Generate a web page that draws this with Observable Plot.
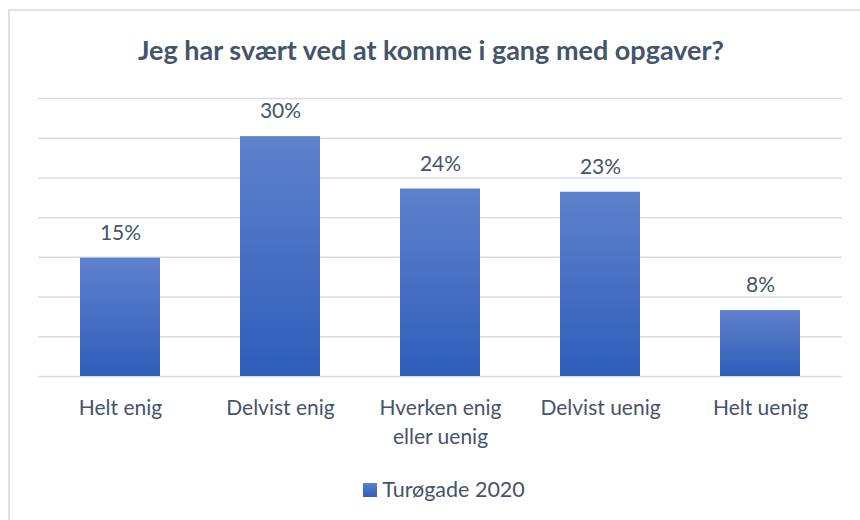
<!DOCTYPE html>
<html>
<head>
<meta charset="utf-8">
<script src="https://cdn.jsdelivr.net/npm/d3@7"></script>
<script src="https://cdn.jsdelivr.net/npm/@observablehq/plot@0.6"></script>
<style>
  html, body { margin: 0; padding: 0; background: #fff; }
  #wrap { position: relative; width: 860px; height: 520px; overflow: hidden; background: #fff; font-family: Lato, "Open Sans", sans-serif; color: #44546A; }
  #frame { position: absolute; left: 8px; top: 9px; width: 900px; height: 600px; border: 2px solid #DDE2E9; box-sizing: border-box; }
  #title { position: absolute; left: 0; width: 862px; top: 34px; text-align: center; font-weight: bold; font-size: 27px; line-height: 32px; }
  #chart { position: absolute; left: 0; top: 70px; }
  #legend { position: absolute; top: 476px; left: 14px; width: 860px; text-align: center; font-size: 21.5px; line-height: 26px; }
  #legend .sw { display: inline-block; width: 14px; height: 14px; background: linear-gradient(#5B7FCB, #2F5FBB); margin-right: 5px; vertical-align: 0px; }
</style>
</head>
<body>
<div id="wrap">
  <div id="frame"></div>
  <div id="title"></div>
  <div id="chart"></div>
  <div id="legend"></div>
</div>
<script>
const titleText = "Jeg har svært ved at komme i gang med opgaver?";
const seriesName = "Turøgade 2020";
const categories = ["Helt enig", "Delvist enig", "Hverken enig eller uenig", "Delvist uenig", "Helt uenig"];
const tickLabels = ["Helt enig", "Delvist enig", "Hverken enig\neller uenig", "Delvist uenig", "Helt uenig"];
const values = [14.9, 30.2, 23.6, 23.2, 8.3];
const valueLabels = ["15%", "30%", "24%", "23%", "8%"];
const yTicks = [0, 5, 10, 15, 20, 25, 30, 35];

const data = categories.map((c, i) => ({cat: c, value: values[i], label: valueLabels[i]}));
const tickMap = new Map(categories.map((c, i) => [c, tickLabels[i]]));

document.getElementById("title").textContent = titleText;
document.getElementById("legend").innerHTML = '<span class="sw"></span>' + seriesName;

const textColor = "#44546A";
const plot = Plot.plot({
  width: 860,
  height: 380,
  marginLeft: 38,
  marginRight: 18,
  marginTop: 28,
  marginBottom: 74,
  style: {fontFamily: "Lato, 'Open Sans', sans-serif", fontSize: "21px", color: textColor, background: "transparent"},
  x: {domain: categories, paddingInner: 0.5, paddingOuter: 0.25, label: null},
  y: {domain: [0, 35], label: null, axis: null},
  marks: [
    Plot.ruleY(yTicks, {stroke: "#D9DDE3", strokeWidth: 1.5}),
    Plot.barY(data, {x: "cat", y: "value", fill: "url(#barGrad)"}),
    Plot.text(data, {x: "cat", y: "value", text: "label", dy: -25, fill: textColor, fontSize: 21}),
    Plot.axisX({tickSize: 0, tickPadding: 18, tickFormat: d => tickMap.get(d), lineHeight: 1.38, fontSize: 21, fill: textColor, textAnchor: "middle"})
  ]
});

const ns = "http://www.w3.org/2000/svg";
const defs = document.createElementNS(ns, "defs");
defs.innerHTML = '<linearGradient id="barGrad" x1="0" y1="0" x2="0" y2="1"><stop offset="0" stop-color="#5F81CD"/><stop offset="1" stop-color="#2E5EBA"/></linearGradient>';
plot.insertBefore(defs, plot.firstChild);
document.getElementById("chart").appendChild(plot);
</script>
</body>
</html>
